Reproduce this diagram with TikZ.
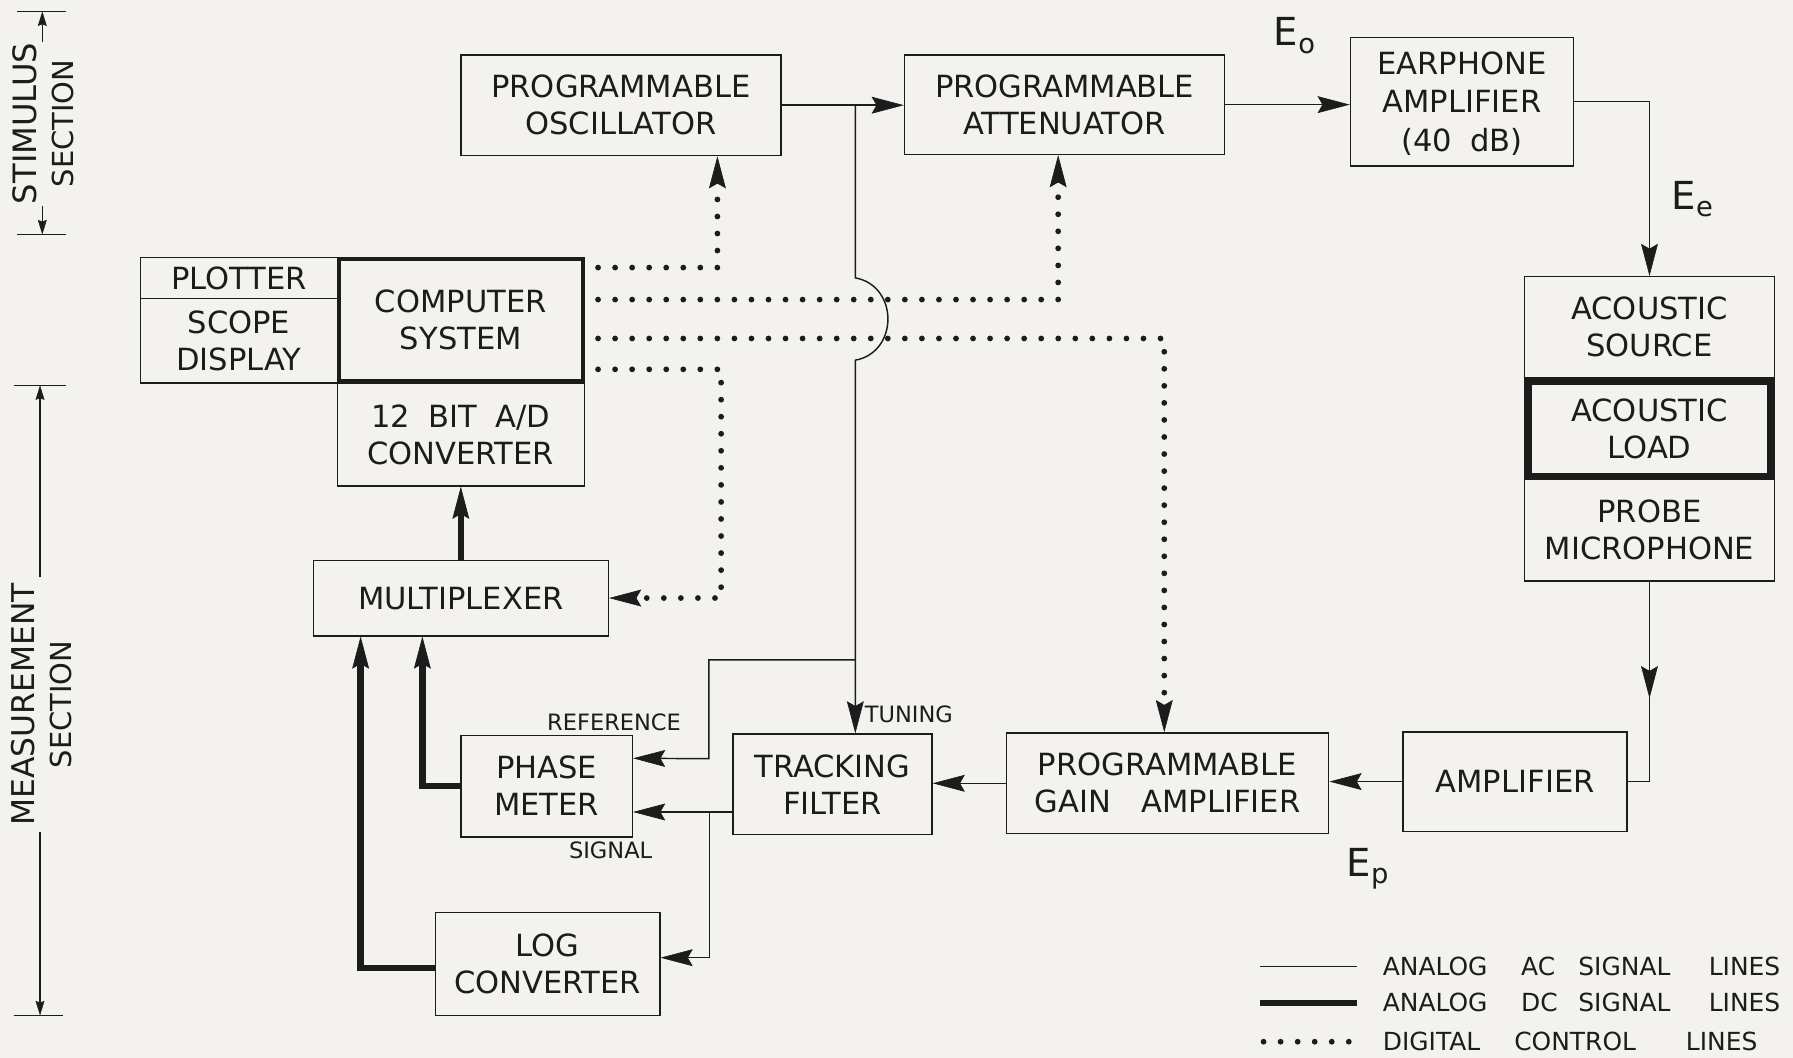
\documentclass[tikz,border=0pt]{standalone}
\usepackage{fontspec}
\setmainfont{DejaVu Sans}
\usetikzlibrary{arrows.meta,calc}
\definecolor{bg}{RGB}{243,242,239}
\definecolor{ink}{RGB}{28,28,28}
\begin{document}
\begin{tikzpicture}[x=0.025cm,y=-0.025cm,
  every node/.style={font=\fontsize{19}{23}\selectfont, inner sep=0pt, text=ink},
  blk/.style n args={4}{draw=ink, line width=0.9pt, align=center,
     at={({(#1+#3)/2},{(#2+#4)/2})},
     minimum width={(#3-#1)*0.025cm}, minimum height={(#4-#2)*0.025cm},
     text height=13.85pt, text depth=0pt},
  twoline/.style={text height=36.85pt},
  threeline/.style={font=\fontsize{19}{24}\selectfont, text height=61.85pt},
  ac/.style={draw=ink, line width=0.9pt},
  dc/.style={draw=ink, line width=4pt},
  dig/.style={draw=ink, line width=3.6pt, line cap=round, dash pattern=on 0pt off 10.6pt},
  >={Stealth[length=20pt,width=10.5pt,inset=3pt,line width=0.4pt]},
  smallarrow/.style={-{Stealth[length=9pt,width=5.5pt,inset=1pt,line width=0.3pt]}},
  lbl/.style={font=\fontsize{14}{16}\selectfont},
  sig/.style={font=\fontsize{24}{26}\selectfont},
  leg/.style={font=\fontsize{15.5}{18}\selectfont, anchor=west}
]
\fill[bg] (0,0) rectangle (1568,925);
\useasboundingbox (0,0) rectangle (1568,925);

% blocks
\node[blk={403}{48}{683}{136}, twoline] (osc) {PROGRAMMABLE\\OSCILLATOR};
\node[blk={791}{48}{1071}{135}, twoline] (att) {PROGRAMMABLE\\ATTENUATOR};
\node[blk={1181}{33}{1376}{145}, threeline] (ear) {EARPHONE\\AMPLIFIER\\(40\hspace{.6em}dB)};
\node[blk={1333}{242}{1552}{330}, twoline] (src) {ACOUSTIC\\SOURCE};
\node[blk={1333}{419}{1552}{508}, twoline] (probe) {PROBE\\MICROPHONE};
\node[blk={1336.2}{333.2}{1548.8}{416.8}, twoline, line width=4.5pt] (load) {ACOUSTIC\\LOAD};
\node[blk={1227}{640}{1423}{727}] (amp) {AMPLIFIER};
\node[blk={880}{641}{1162}{729}, twoline] (pga) {PROGRAMMABLE\\GAIN\hspace{1em}AMPLIFIER};
\node[blk={641}{642}{815}{730}, twoline] (trk) {TRACKING\\FILTER};
\node[blk={403}{643}{553}{732}, twoline] (pm) {PHASE\\METER};
\node[blk={381}{798}{577}{888}, twoline] (log) {LOG\\CONVERTER};
\node[blk={274}{490}{532}{556}] (mux) {MULTIPLEXER};
\node[blk={295}{335}{511}{425}, twoline] (adc) {12\hspace{.6em}BIT\hspace{.6em}A/D\\CONVERTER};
\node[blk={123}{225}{295}{261}] (plot) {PLOTTER};
\node[blk={123}{261}{295}{335}, twoline] (scope) {SCOPE\\DISPLAY};
\node[blk={296.5}{226.5}{509.5}{333.5}, twoline, line width=2.5pt] (comp) {COMPUTER\\SYSTEM};

% analog AC lines
\coordinate (j1) at (748,92);
\coordinate (j2) at (748,577);
\draw[ac,->] (osc.east) -- (osc.east -| att.west);
\draw[ac,->] (att.east) -- (att.east -| ear.west);
\draw[ac,->] (ear.east) -| (src.north);
\draw[ac,->] (probe.south) -- ($(probe.south)+(0,102)$);
\draw[ac] ($(probe.south)+(0,95)$) |- (amp.east);
\draw[ac,->] (amp.west) -- (amp.west -| pga.east);
\draw[ac,->] (pga.west) -- (pga.west -| trk.east);
\draw[ac,->] (j1) -- (748,243) .. controls (786,250) and (786,308) .. (748,315) -- (j1 |- trk.north);
\coordinate (pmref) at ($(pm.north east)!0.23!(pm.south east)$);
\draw[ac,->] (j2) -- (620,577) -- (620,663.5) -- (pmref);
\coordinate (tsig) at ($(trk.north west)!0.77!(trk.south west)$);
\coordinate (j3) at ($(tsig)+(-20,0)$);
\coordinate (login) at ($(log.north east)!0.44!(log.south east)$);
\draw[ac,->] (tsig) -- (tsig -| pm.east);
\draw[ac,->] (j3) |- (login);

% analog DC lines
\draw[dc,->] (mux.north) -- (adc.south);
\draw[dc,->] (pm.west) -| ($(mux.south west)+(96,0)$);
\coordinate (logdc) at ($(log.north west)!0.54!(log.south west)$);
\draw[dc,->] (logdc) -| ($(mux.south west)+(42,0)$);

% digital control lines
\coordinate (c1) at (523,234);
\coordinate (c2) at (523,262);
\coordinate (c3) at (523,296);
\coordinate (c4) at (523,323);
\draw[dig,->] (c1) -| ($(osc.south west)!0.8!(osc.south east)$);
\draw[dig,->] (c2) -| ($(att.south west)!0.48!(att.south east)$);
\draw[dig,->] (c3) -| ($(pga.north west)!0.49!(pga.north east)$);
\draw[dig,->] (c4) -| ($(mux.east)+(98,0)$) -- (mux.east);

% labels
\node[sig] (eo) at (1132,31) {E\raisebox{-0.35ex}{\fontsize{17}{17}\selectfont o}};
\node[sig] (ee) at (1480,174) {E\raisebox{-0.35ex}{\fontsize{17}{17}\selectfont e}};
\node[sig] (ep) at (1196,760) {E\raisebox{-0.35ex}{\fontsize{17}{17}\selectfont p}};
\node[lbl, anchor=west] (tun) at (756,625) {TUNING};
\node[lbl] (ref) at (537,632) {REFERENCE};
\node[lbl] (sg) at (534,744) {SIGNAL};

% section brackets
\draw[ac] (15,10) -- (58,10);
\draw[ac] (15,205) -- (58,205);
\draw[ac,smallarrow] (37,37) -- (37,10);
\draw[ac,smallarrow] (37,180) -- (37,205);
\node[rotate=90, align=center] (stim) at (38,108) {\fontsize{20}{17}\selectfont STIMULUS\\\fontsize{18}{17}\selectfont SECTION};
\draw[ac] (12,337) -- (58,337);
\draw[ac] (12,888) -- (55,888);
\draw[ac,smallarrow] (35,505) -- (35,337);
\draw[ac,smallarrow] (35,728) -- (35,888);
\node[rotate=90, align=center] (meas) at (36,616) {\fontsize{19.5}{17}\selectfont MEASUREMENT\\\fontsize{18}{17}\selectfont SECTION};

% legend
\draw[ac] (1102,845) -- (1187,845);
\draw[dc] (1102,877) -- (1187,877);
\draw[dig] (1105,911) -- (1187,911);
\node[leg] (l1) at (1209,845) {\makebox[3.025cm][l]{ANALOG}\makebox[1.25cm][l]{AC}\makebox[2.85cm][l]{SIGNAL}LINES};
\node[leg] (l2) at (1209,877) {\makebox[3.025cm][l]{ANALOG}\makebox[1.25cm][l]{DC}\makebox[2.85cm][l]{SIGNAL}LINES};
\node[leg] (l3) at (1209,911) {\makebox[2.875cm][l]{DIGITAL}\makebox[3.75cm][l]{CONTROL}LINES};
\end{tikzpicture}
\end{document}
